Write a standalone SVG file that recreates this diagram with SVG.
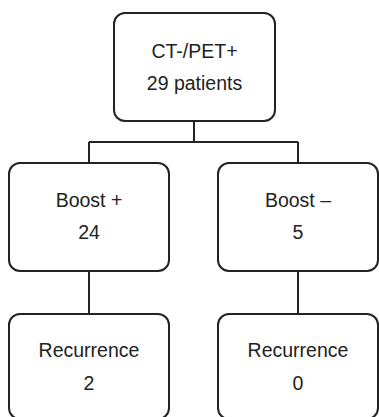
<svg xmlns="http://www.w3.org/2000/svg" width="379" height="417" viewBox="0 0 379 417">
<style>
.box{fill:#fff;stroke:#222;stroke-width:2}
.conn{fill:none;stroke:#222;stroke-width:2}
text{font-family:"Liberation Sans",Arial,sans-serif;font-size:19.5px;fill:#222;text-anchor:middle}
</style>
<rect width="379" height="417" fill="#fff"/>
<g id="connectors">
<path class="conn" d="M194,121 V142 M89,142 H298 M89,142 V163 M298,142 V163"/>
<path class="conn" d="M89,271 V314"/>
<path class="conn" d="M298,271 V314"/>
</g>
<g id="root">
<rect class="box" x="114" y="13" width="161" height="108" rx="11"/>
<text x="194.5" y="58">CT-/PET+</text>
<text x="194.5" y="90">29 patients</text>
</g>
<g id="boost-plus">
<rect class="box" x="9" y="163" width="160" height="108" rx="11"/>
<text x="89" y="207">Boost +</text>
<text x="89" y="239">24</text>
</g>
<g id="boost-minus">
<rect class="box" x="218" y="163" width="160" height="108" rx="11"/>
<text x="298" y="207">Boost –</text>
<text x="298" y="239">5</text>
</g>
<g id="recurrence-plus">
<rect class="box" x="9" y="314" width="160" height="105" rx="11"/>
<text x="89" y="357">Recurrence</text>
<text x="89" y="390">2</text>
</g>
<g id="recurrence-minus">
<rect class="box" x="218" y="314" width="160" height="105" rx="11"/>
<text x="298" y="357">Recurrence</text>
<text x="298" y="390">0</text>
</g>
</svg>
